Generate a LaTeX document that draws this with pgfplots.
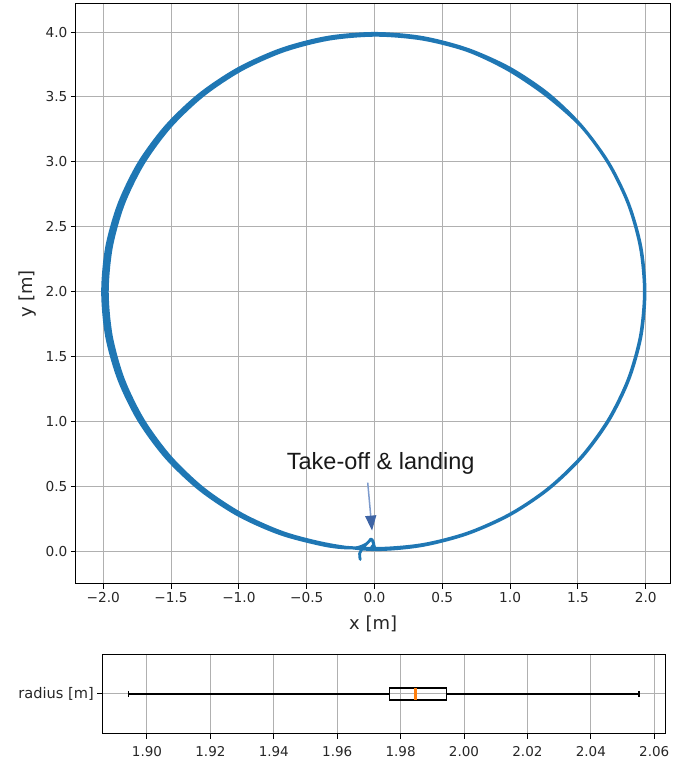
\documentclass[border=0pt]{standalone}
\usepackage{pgfplots}
\pgfplotsset{compat=1.18}
\usetikzlibrary{arrows.meta}
\usepackage{fontspec}
\setmainfont{DejaVu Sans}
\newfontfamily\annfont{Liberation Sans}
\definecolor{mplblue}{HTML}{1F77B4}
\definecolor{mplorange}{HTML}{FF7F0E}
\definecolor{gridgray}{HTML}{B0B0B0}
\definecolor{ticktext}{HTML}{262626}
\definecolor{arrowshaft}{RGB}{125,155,205}
\definecolor{arrowhead}{RGB}{62,100,165}
\begin{document}
\begin{tikzpicture}
\useasboundingbox (0,0) rectangle (686pt,763pt);
\begin{axis}[
  at={(76pt,179pt)}, anchor=south west,
  scale only axis, width=594.3pt, height=580pt,
  xmin=-2.201, xmax=2.181, ymin=-0.249, ymax=4.216,
  xtick={-2,-1.5,-1,-0.5,0,0.5,1,1.5,2},
  xticklabels={−2.0,−1.5,−1.0,−0.5,0.0,0.5,1.0,1.5,2.0},
  ytick={0,0.5,1,1.5,2,2.5,3,3.5,4},
  yticklabels={0.0,0.5,1.0,1.5,2.0,2.5,3.0,3.5,4.0},
  grid=major, grid style={gridgray, line width=1pt},
  axis line style={black, line width=1pt},
  tick align=outside, tick pos=left, major tick length=5pt,
  tick style={black, line width=1pt},
  tick label style={font=\fontsize{13.7}{16}\selectfont, text=ticktext},
  xlabel={x [m]}, ylabel={y [m]},
  label style={font=\fontsize{18}{21}\selectfont, text=ticktext},
  xlabel style={at={(axis description cs:0.5,-0.0776)}, anchor=base},
  ylabel style={at={(axis description cs:-0.0740,0.5)}, anchor=base},
]
\addplot[mplblue, line width=2.8pt, smooth, line join=round, line cap=round] coordinates {
(-0.105,-0.060) (-0.110,-0.015) (-0.085,0.030) (-0.045,0.075) (-0.020,0.095) (-0.005,0.060)
(0.000,0.020) (0.346,0.050) (0.681,0.140) (0.995,0.286) (1.279,0.485) (1.524,0.729) (1.723,1.013) (1.870,1.326) (1.960,1.660) (1.990,2.005) (1.960,2.350) (1.870,2.684) (1.723,2.998) (1.524,3.281) (1.279,3.526) (0.995,3.724) (0.681,3.870) (0.346,3.960) (0.000,3.990) (-0.346,3.960) (-0.681,3.870) (-0.995,3.724) (-1.279,3.526) (-1.524,3.281) (-1.723,2.998) (-1.870,2.684) (-1.960,2.350) (-1.990,2.005) (-1.960,1.660) (-1.870,1.326) (-1.723,1.013) (-1.524,0.729) (-1.279,0.485) (-0.995,0.286) (-0.681,0.140) (-0.346,0.050)
(0.010,0.025) (0.354,0.055) (0.687,0.144) (1.000,0.290) (1.283,0.487) (1.527,0.731) (1.725,1.013) (1.871,1.325) (1.960,1.657) (1.990,2.000) (1.960,2.343) (1.871,2.676) (1.725,2.988) (1.527,3.270) (1.272,3.507) (0.990,3.706) (0.687,3.856) (0.354,3.945) (0.010,3.975) (-0.334,3.945) (-0.667,3.856) (-0.980,3.710) (-1.263,3.513) (-1.507,3.270) (-1.705,2.988) (-1.851,2.676) (-1.940,2.343) (-1.970,2.000) (-1.940,1.657) (-1.851,1.325) (-1.705,1.013) (-1.507,0.731) (-1.263,0.487) (-0.980,0.290) (-0.667,0.144) (-0.334,0.055)
(-0.005,0.015) (0.342,0.045) (0.679,0.135) (0.995,0.281) (1.281,0.480) (1.527,0.724) (1.727,1.008) (1.874,1.321) (1.965,1.655) (1.995,2.000) (1.965,2.345) (1.874,2.679) (1.727,2.993) (1.527,3.276) (1.281,3.520) (0.995,3.719) (0.679,3.865) (0.342,3.955) (-0.005,3.985) (-0.352,3.955) (-0.689,3.865) (-1.005,3.719) (-1.291,3.520) (-1.537,3.276) (-1.737,2.993) (-1.884,2.679) (-1.975,2.345) (-2.005,2.000) (-1.975,1.655) (-1.884,1.321) (-1.737,1.008) (-1.537,0.724) (-1.291,0.480) (-1.005,0.281) (-0.689,0.135) (-0.352,0.045)
(-0.150,0.028) (-0.060,0.060) (-0.025,0.098) (-0.010,0.070) (0.000,0.035)
};
\draw[arrowshaft, line width=1.5pt, -{Triangle[length=15pt,width=11pt,color=arrowhead]}] (axis cs:-0.050,0.531) -- (axis cs:-0.018,0.162);
\node[font=\annfont\fontsize{23.5}{27}\selectfont, anchor=base, text=black!90] at (axis cs:0.046,0.634) {Take-off \& landing};
\end{axis}
\begin{axis}[
  at={(102.3pt,29.3pt)}, anchor=south west,
  scale only axis, width=562.7pt, height=79.4pt,
  xmin=1.8859, xmax=2.0634, ymin=0.5, ymax=1.5,
  xtick={1.90,1.92,1.94,1.96,1.98,2.00,2.02,2.04,2.06},
  xticklabels={1.90,1.92,1.94,1.96,1.98,2.00,2.02,2.04,2.06},
  ytick={1}, yticklabels={radius [m]},
  grid=major, grid style={gridgray, line width=1pt},
  axis line style={black, line width=1pt},
  tick align=outside, tick pos=left, major tick length=5pt,
  tick style={black, line width=1pt},
  tick label style={text=ticktext},
  xticklabel style={font=\fontsize{13.5}{16}\selectfont, yshift=-4pt},
  yticklabel style={font=\fontsize{14.6}{17}\selectfont},
]
\addplot[black, line width=1.1pt, mark=none] coordinates {(1.8941,1) (1.9765,1)};
\addplot[black, line width=1.1pt, mark=none] coordinates {(1.9946,1) (2.0552,1)};
\addplot[black, line width=1.1pt, mark=none] coordinates {(1.8941,0.9625) (1.8941,1.0375)};
\addplot[black, line width=1.1pt, mark=none] coordinates {(2.0552,0.9625) (2.0552,1.0375)};
\addplot[black, line width=1.1pt, mark=none] coordinates {(1.9765,0.925) (1.9946,0.925) (1.9946,1.075) (1.9765,1.075) (1.9765,0.925)} -- cycle;
\addplot[color=mplorange, line width=2.3pt, mark=none] coordinates {(1.9847,0.93) (1.9847,1.07)};
\end{axis}
\end{tikzpicture}
\end{document}
